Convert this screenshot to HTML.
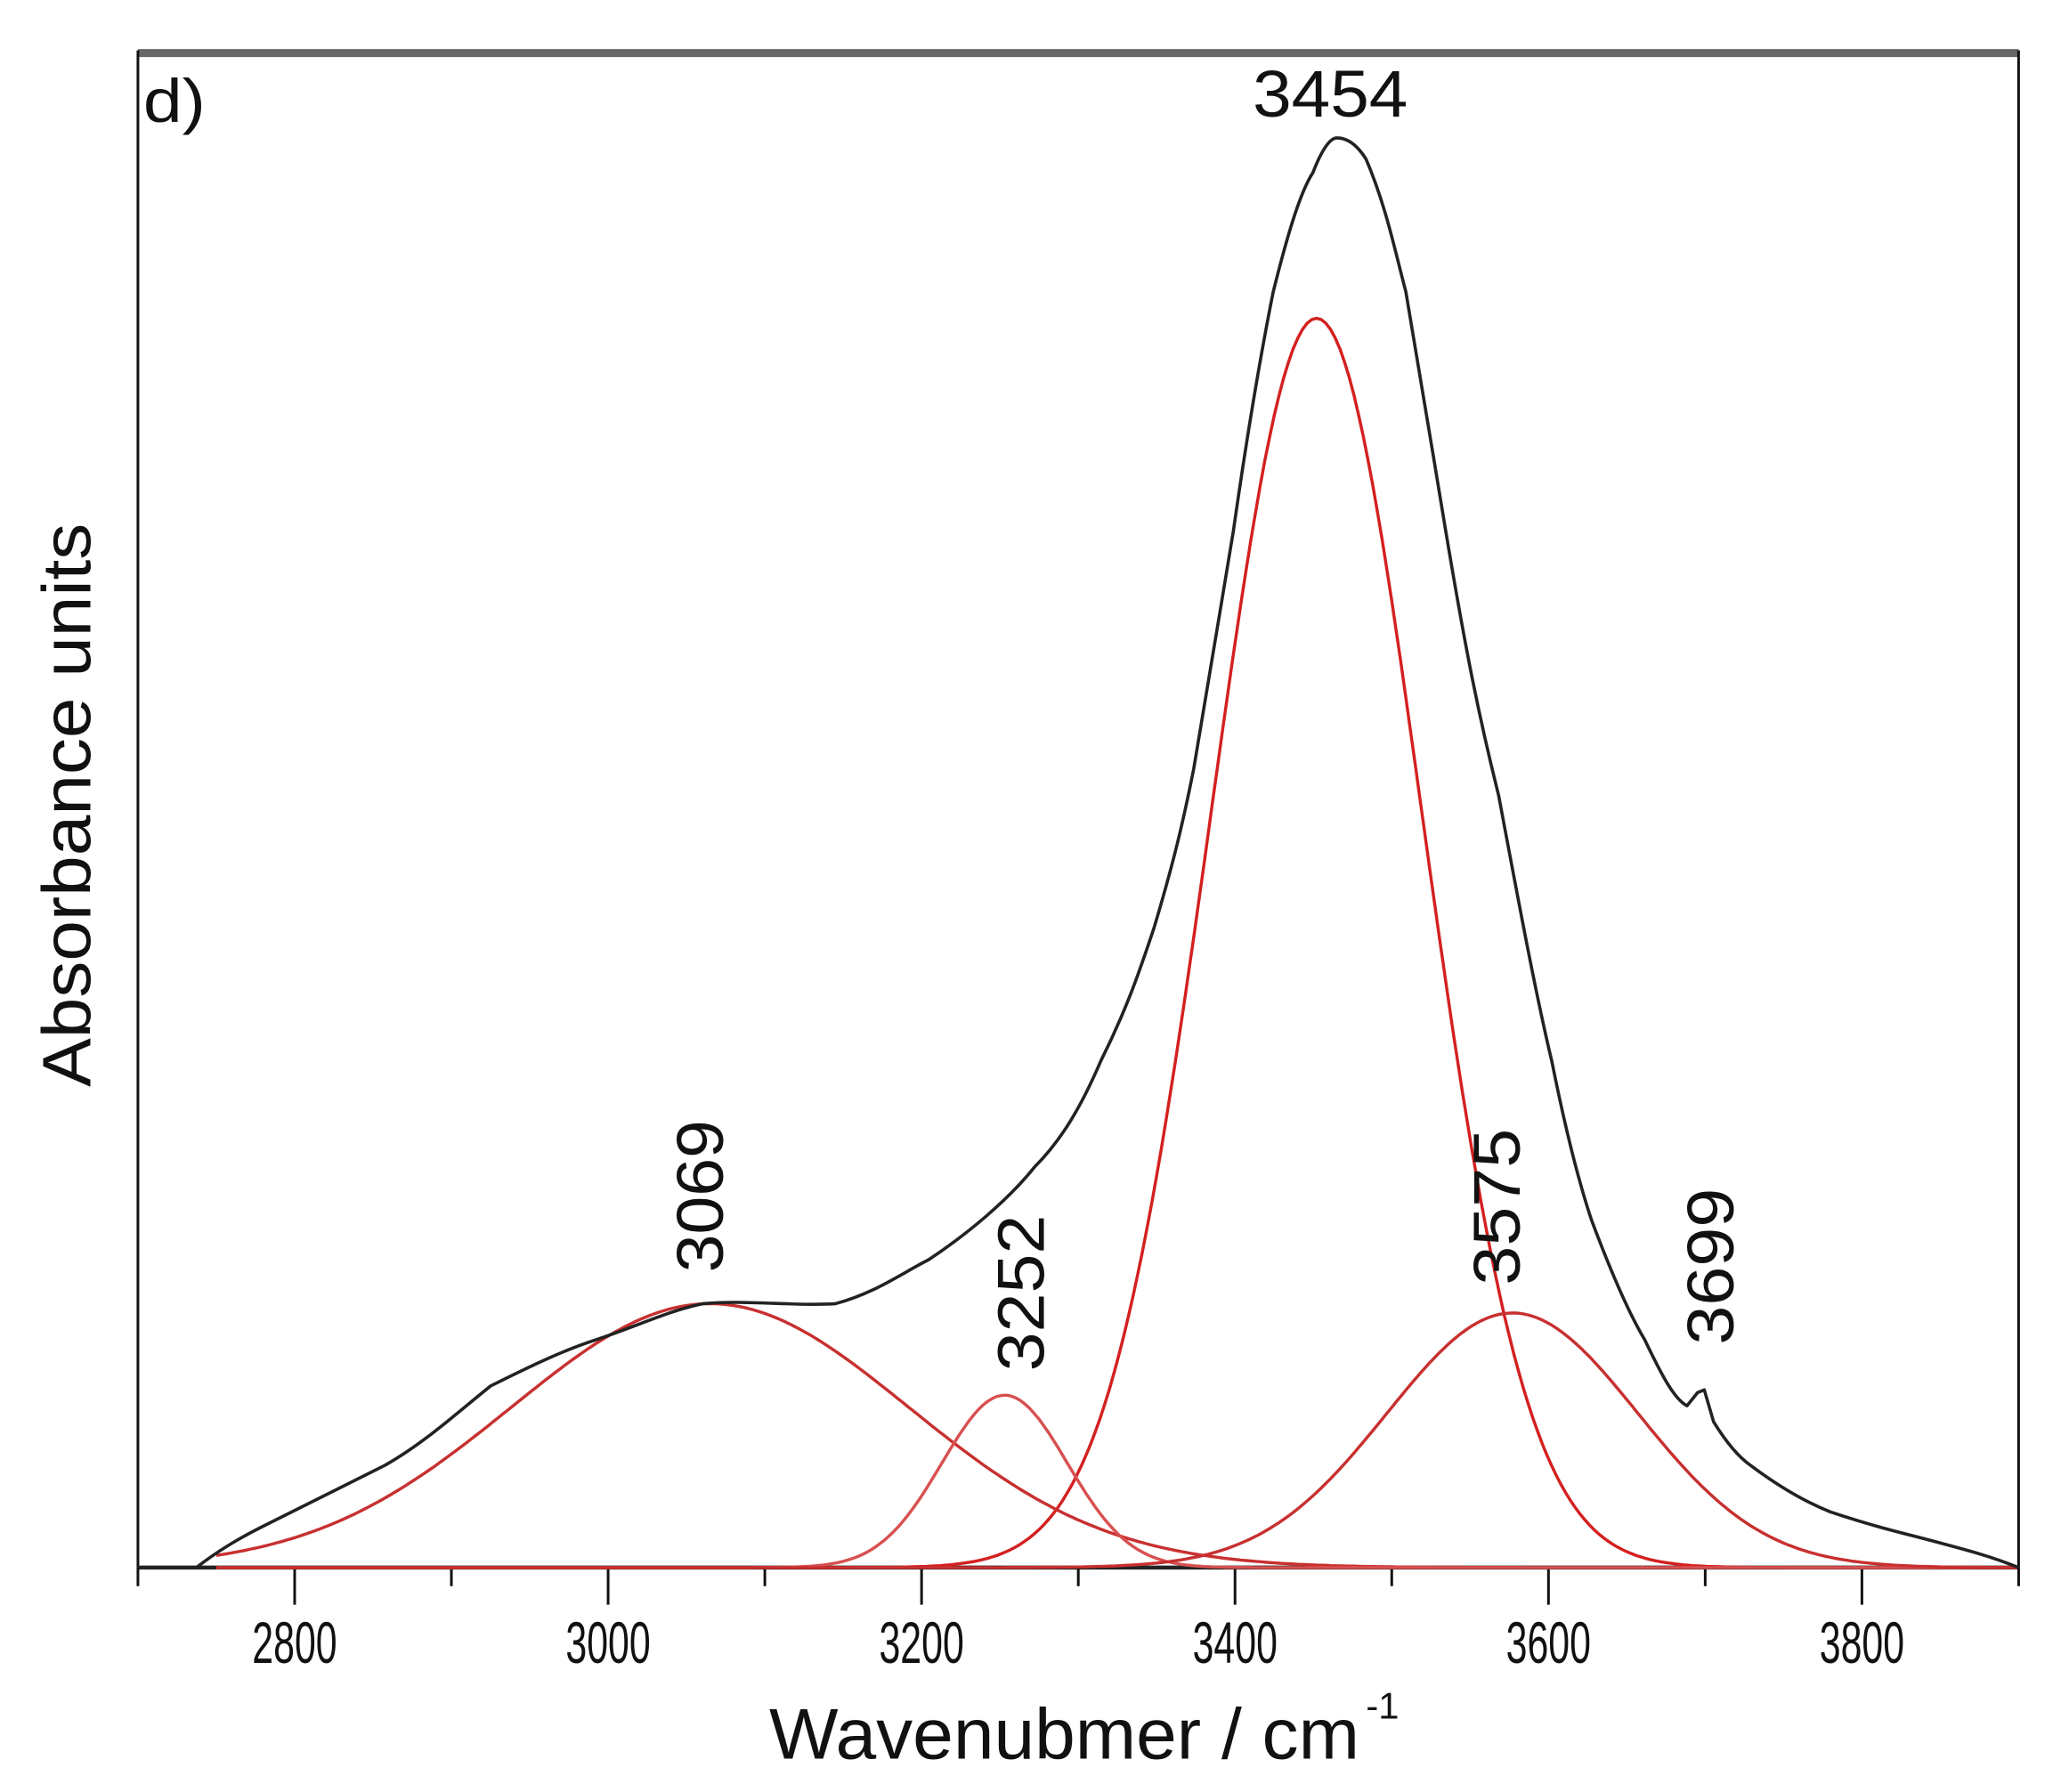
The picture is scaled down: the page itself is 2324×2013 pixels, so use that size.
<!DOCTYPE html>
<html><head><meta charset="utf-8"><style>html,body{margin:0;padding:0;background:#fff}svg{display:block}</style></head>
<body>
<svg id="s" width="2324" height="2013" viewBox="0 0 1560 1351.2" xmlns="http://www.w3.org/2000/svg" font-family="Liberation Sans, sans-serif">
<rect width="1560" height="1351.2" fill="#fff"/>
<line x1="104" y1="40" x2="1522" y2="40" stroke="#666" stroke-width="6"/>
<line x1="104" y1="38" x2="104" y2="1182" stroke="#111" stroke-width="2"/>
<line x1="1522" y1="38" x2="1522" y2="1182" stroke="#111" stroke-width="2"/>
<line x1="104" y1="1182" x2="1522" y2="1182" stroke="#222" stroke-width="3"/>
<g id="ticks" stroke="#111" stroke-width="2"></g>
<g id="curves" fill="none"></g>
<path fill="none" stroke="#222" stroke-width="2.4" stroke-linejoin="round" d="M148,1182 C170,1165 190,1155 200,1150 C230,1135 260,1120 290,1105 C320,1088 345,1065 370,1045 C400,1030 425,1018 450,1010 C480,1000 505,988 530,983 C560,980 600,985 630,983 C660,975 680,960 700,950 C730,930 760,905 780,880 C800,860 815,835 830,800 C850,760 860,730 870,700 C885,650 892,620 900,580 C912,510 920,460 930,400 C940,330 950,270 960,220 C970,180 980,145 990,130 C997,112 1003,104 1008,104 C1018,104 1025,112 1030,120 C1045,155 1052,190 1060,220 C1072,290 1080,340 1090,400 C1105,490 1115,540 1130,600 C1145,680 1158,750 1170,800 C1180,850 1190,890 1200,920 C1215,960 1228,990 1240,1010 C1252,1035 1262,1055 1272,1060 L1280,1050 L1285,1048 L1292,1072 C1300,1085 1310,1098 1320,1105 C1340,1120 1360,1132 1380,1140 C1410,1150 1430,1155 1450,1160 C1480,1168 1500,1173 1522,1182"/>
<g fill="#111" font-size="44" text-anchor="middle" id="lab"></g>
<text x="108" y="92" font-size="46" textLength="47" lengthAdjust="spacingAndGlyphs" fill="#111">d)</text>
<text x="1003" y="88" font-size="50" text-anchor="middle" textLength="117" lengthAdjust="spacingAndGlyphs" fill="#111">3454</text>
<text transform="translate(545,902) rotate(-90)" font-size="50" text-anchor="middle" textLength="115" lengthAdjust="spacingAndGlyphs" fill="#111">3069</text>
<text transform="translate(787,975) rotate(-90)" font-size="50" text-anchor="middle" textLength="118" lengthAdjust="spacingAndGlyphs" fill="#111">3252</text>
<text transform="translate(1146,910) rotate(-90)" font-size="50" text-anchor="middle" textLength="118" lengthAdjust="spacingAndGlyphs" fill="#111">3575</text>
<text transform="translate(1307,955) rotate(-90)" font-size="50" text-anchor="middle" textLength="118" lengthAdjust="spacingAndGlyphs" fill="#111">3699</text>
<text transform="translate(68,607) rotate(-90)" font-size="52" text-anchor="middle" textLength="425" lengthAdjust="spacingAndGlyphs" fill="#111">Absorbance units</text>
<text x="580" y="1326" font-size="54" textLength="445" lengthAdjust="spacingAndGlyphs" fill="#111">Wavenubmer / cm</text>
<text x="1030" y="1296" font-size="28" fill="#111">-1</text>
</svg>
<script>
var X=function(w){return 104+(w-2700)*1.1817;};
var ns="http://www.w3.org/2000/svg";
var t=document.getElementById("ticks"),lab=document.getElementById("lab");
for(var w=2700;w<=3900;w+=100){var x=X(w),maj=(w%200==0);
var l=document.createElementNS(ns,"line");l.setAttribute("x1",x);l.setAttribute("x2",x);l.setAttribute("y1",1182);l.setAttribute("y2",maj?1210:1196);t.appendChild(l);
if(maj&&w>2700&&w<3900){var tx=document.createElementNS(ns,"text");tx.setAttribute("x",x);tx.setAttribute("y",1254);tx.setAttribute("textLength",64);tx.setAttribute("lengthAdjust","spacingAndGlyphs");tx.textContent=w;lab.appendChild(tx);}}
var peaks=[[3452,942,67,"#d42020"],[3065,199,127,"#c83030"],[3253,130,40,"#d85050"],[3577,192,80,"#c83030"]];
var c=document.getElementById("curves");
peaks.forEach(function(p){var d="";for(var w=2750;w<=3900;w+=3){var h=p[1]*Math.exp(-Math.pow(w-p[0],2)/(2*p[2]*p[2]));d+=(d?"L":"M")+X(w).toFixed(1)+","+(1182-h).toFixed(1);}
var e=document.createElementNS(ns,"path");e.setAttribute("d",d);e.setAttribute("stroke",p[3]);e.setAttribute("stroke-width","2.3");c.appendChild(e);});
</script>
</body></html>
